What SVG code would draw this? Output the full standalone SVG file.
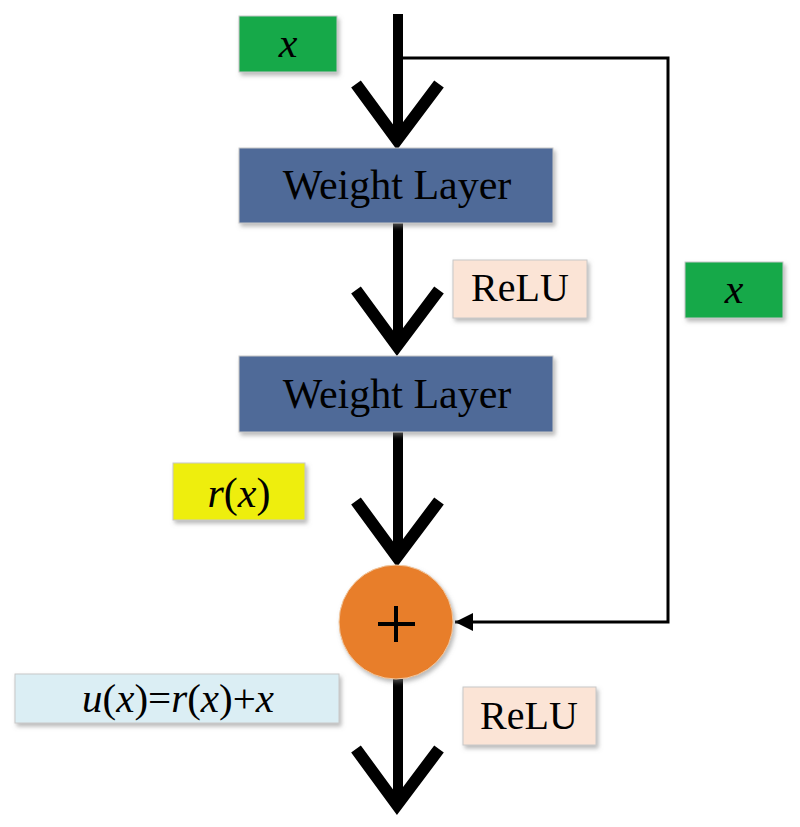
<svg xmlns="http://www.w3.org/2000/svg" width="800" height="827" viewBox="0 0 800 827">
<defs>
<filter id="sh" x="-10%" y="-10%" width="130%" height="140%">
<feDropShadow dx="2" dy="3" stdDeviation="2" flood-color="#808080" flood-opacity="0.55"/>
</filter>
<marker id="ah" viewBox="0 0 10 10" refX="10" refY="5" markerWidth="6" markerHeight="6" orient="auto" markerUnits="strokeWidth">
<path d="M0,0 L10,5 L0,10 z" fill="#000"/>
</marker>
<style>
.t{font-family:"Liberation Serif","Times New Roman",serif;fill:#000;text-anchor:middle}
.i{font-style:italic}
.box{stroke:#c8c8c8;stroke-width:1}
.shaft{stroke:#000;stroke-width:10;fill:none}
.chev{stroke:#000;stroke-width:12;fill:none;stroke-linejoin:miter;stroke-miterlimit:10}
</style>
</defs>
<rect width="800" height="827" fill="#fff"/>
<g id="connectors">
<line class="shaft" x1="398" y1="14" x2="398" y2="140"/>
<polyline class="chev" points="356,84 397,140 439,84"/>
<line class="shaft" x1="398" y1="223" x2="398" y2="345"/>
<polyline class="chev" points="356,290 397,346 439,290"/>
<line class="shaft" x1="398" y1="432" x2="398" y2="556"/>
<polyline class="chev" points="356,501 397,557 439,501"/>
<line class="shaft" x1="398" y1="679" x2="398" y2="803"/>
<polyline class="chev" points="356,749 397,805 439,749"/>
<polyline points="398,58 668,58 668,622 455,622" fill="none" stroke="#000" stroke-width="3" marker-end="url(#ah)"/>
</g>
<g id="x-top">
<rect class="box" x="239" y="16" width="98" height="56" fill="#12a94a" filter="url(#sh)"/>
<text class="t i" x="288" y="57" font-size="42">x</text>
</g>
<g id="weight-layer-1">
<rect class="box" x="239" y="148" width="314" height="75" fill="#4f6a98" filter="url(#sh)"/>
<text class="t" x="397" y="199" font-size="42">Weight Layer</text>
</g>
<g id="relu-1">
<rect class="box" x="453" y="260" width="134" height="58" fill="#fbe4d6" filter="url(#sh)"/>
<text class="t" x="520" y="301" font-size="40">ReLU</text>
</g>
<g id="x-right">
<rect class="box" x="685" y="262" width="98" height="56" fill="#12a94a" filter="url(#sh)"/>
<text class="t i" x="734" y="303" font-size="42">x</text>
</g>
<g id="weight-layer-2">
<rect class="box" x="239" y="356" width="314" height="76" fill="#4f6a98" filter="url(#sh)"/>
<text class="t" x="397" y="408" font-size="42">Weight Layer</text>
</g>
<g id="rx">
<rect class="box" x="173" y="463" width="132" height="57" fill="#eeee10" filter="url(#sh)"/>
<text class="t" x="239" y="507" font-size="42"><tspan class="i">r</tspan>(<tspan class="i">x</tspan>)</text>
</g>
<g id="add">
<circle cx="396" cy="622" r="57" fill="#e87e2c" stroke="#f0c8a0" stroke-width="1" filter="url(#sh)"/>
<line x1="378" y1="624" x2="415" y2="624" stroke="#000" stroke-width="4"/>
<line x1="396" y1="606" x2="396" y2="642" stroke="#000" stroke-width="4"/>
</g>
<g id="ux">
<rect class="box" x="15" y="674" width="324" height="49" fill="#dbeef4" filter="url(#sh)"/>
<text class="t" x="178" y="712" font-size="41"><tspan class="i">u</tspan>(<tspan class="i">x</tspan>)=<tspan class="i">r</tspan>(<tspan class="i">x</tspan>)+<tspan class="i">x</tspan></text>
</g>
<g id="relu-2">
<rect class="box" x="463" y="687" width="133" height="58" fill="#fbe4d6" filter="url(#sh)"/>
<text class="t" x="529" y="729" font-size="40">ReLU</text>
</g>
</svg>
